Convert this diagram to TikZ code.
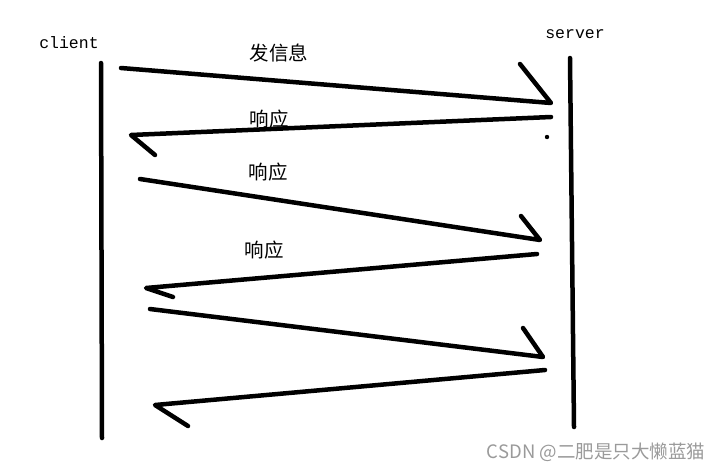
\documentclass[tikz,border=0pt]{standalone}
\usepackage{fontspec}
\setmonofont{Liberation Mono}
\newfontfamily\cjk{Noto Sans CJK SC}
\usepackage{tikz}
\usetikzlibrary{positioning, calc}
\definecolor{markgray}{HTML}{9A9A9A}

\begin{document}
\begin{tikzpicture}[
    x=1pt, y=-1pt,
    every node/.style={inner sep=0pt},
    party/.style={font=\ttfamily\fontsize{16.5}{16.5}\selectfont},
    msg/.style={font=\cjk\fontsize{19.5}{19.5}\selectfont},
    stroke/.style={line width=4.5pt, line cap=round, line join=round},
    lifeline/.style={line width=4.5pt, line cap=round}
]
    \useasboundingbox (0,0) rectangle (727,472);

    % parties
    \node[party] (client) at (69,43) {client};
    \node[party] (server) at (575,34) {server};

    % lifelines
    \coordinate (ctop) at (101,63);
    \coordinate (cbot) at (102,438);
    \coordinate (stop) at (570,58);
    \coordinate (sbot) at (574,427);
    \draw[lifeline] (ctop) -- (cbot);
    \draw[lifeline] (stop) -- (sbot);

    % message ends
    \coordinate (a1) at (121,68);  \coordinate (b1) at (551,103); \coordinate (h1) at (520,64);
    \coordinate (a2) at (551,117); \coordinate (b2) at (131,135); \coordinate (h2) at (155,155);
    \coordinate (a3) at (140,179); \coordinate (b3) at (540,240); \coordinate (h3) at (521,216);
    \coordinate (a4) at (537,254); \coordinate (b4) at (146,288); \coordinate (h4) at (173,297);
    \coordinate (a5) at (150,309); \coordinate (b5) at (543,357); \coordinate (h5) at (523,328);
    \coordinate (a6) at (545,370); \coordinate (b6) at (155,405); \coordinate (h6) at (188,426);

    \foreach \i in {1,...,6}
        \draw[stroke] (a\i) -- (b\i) -- (h\i);

    \fill (547,137) circle (2.2);

    % labels
    \node[msg] (send) at (279,53) {发信息};
    \node[msg] (resp1) at (269,119) {响应};
    \node[msg] (resp2) at (268,172) {响应};
    \node[msg] (resp3) at (264,250) {响应};

    \node[font=\cjk\fontsize{18.5}{18.5}\selectfont, text=markgray] (mark) at (596,452) {CSDN @二肥是只大懒蓝猫};
\end{tikzpicture}
\end{document}
